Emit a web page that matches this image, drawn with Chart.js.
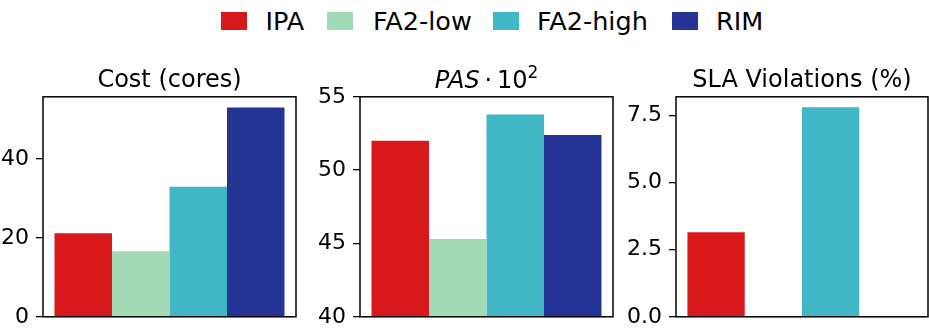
<!DOCTYPE html>
<html><head><meta charset="utf-8">
<script src="https://cdn.jsdelivr.net/npm/chart.js@4.4.0/dist/chart.umd.min.js"></script>
<style>
html,body{margin:0;padding:0;background:#fff;width:929px;height:331px;overflow:hidden;position:relative;font-family:"DejaVu Sans";}
.panel{position:absolute;top:50px;height:287px;}
.sw{position:absolute;top:12px;width:26px;height:18px}
.lt{position:absolute;top:9px;font-size:25.5px;line-height:25.5px;color:#000;white-space:nowrap}
</style></head><body>
<div id="legend"></div>
<div class="panel" id="p1" style="left:-6.7px;width:307px"><canvas id="c1"></canvas></div>
<div class="panel" id="p2" style="left:310px;width:307px"><canvas id="c2"></canvas></div>
<div class="panel" id="p3" style="left:626px;width:306px"><canvas id="c3"></canvas></div>
<script>
const methods = ['IPA', 'FA2-low', 'FA2-high', 'RIM'];
const colors = ['#d7191c', '#a1dab4', '#41b6c4', '#253494'];
const costValues = [21.2, 16.6, 33.0, 53.1];
const pasValues = [52.0, 45.3, 53.8, 52.4];
const slaValues = [3.15, 0, 7.81, 0];
const panelTitles = ['Cost (cores)', 'PAS · 10²', 'SLA Violations (%)'];
const pasTitleParts = [
  { text: 'PAS', italic: true },
  { text: '\u2009·\u200910' },
  { text: '2', sup: true }
];
const yMin = [0, 40, 0];
const yMax = [55.8, 55, 8.2];
const yStep = [20, 5, 2.5];

// legend (HTML text)
const legendSwatchX = [221, 327, 493, 672];
const legendTextX = [265.5, 373, 537, 716];
const legend = document.getElementById('legend');
methods.forEach((m, i) => {
  const sw = document.createElement('div'); sw.className = 'sw';
  sw.style.left = legendSwatchX[i] + 'px'; sw.style.background = colors[i];
  const tx = document.createElement('div'); tx.className = 'lt';
  tx.style.left = legendTextX[i] + 'px'; tx.textContent = m;
  legend.appendChild(sw); legend.appendChild(tx);
});

const boxPlugin = {
  id: 'box',
  afterDraw(chart) {
    const a = chart.chartArea, ctx = chart.ctx;
    ctx.save(); ctx.strokeStyle = '#000'; ctx.lineWidth = 1.5;
    ctx.strokeRect(a.left, a.top, a.right - a.left, a.bottom - a.top);
    ctx.restore();
  }
};

const mathTitlePlugin = {
  id: 'mathTitle',
  afterDraw(chart) {
    const ctx = chart.ctx, a = chart.chartArea;
    const size = 24, supSize = 17;
    const fontOf = p => (p.italic ? 'italic ' : '') + (p.sup ? supSize : size) + 'px "DejaVu Sans"';
    ctx.save();
    let total = 0;
    const widths = pasTitleParts.map(p => { ctx.font = fontOf(p); const w = ctx.measureText(p.text).width; total += w; return w; });
    let x = (a.left + a.right) / 2 - total / 2;
    const baseY = 38;
    ctx.fillStyle = '#000'; ctx.textBaseline = 'alphabetic'; ctx.textAlign = 'left';
    pasTitleParts.forEach((p, i) => {
      ctx.font = fontOf(p);
      ctx.fillText(p.text, x, p.sup ? baseY - 10 : baseY);
      x += widths[i];
    });
    ctx.restore();
  }
};

function makeChart(id, values, p, decimals) {
  const useMath = p === 1;
  new Chart(document.getElementById(id), {
    type: 'bar',
    data: {
      labels: [''],
      datasets: methods.map((m, i) => ({
        label: m, data: [values[i]], backgroundColor: colors[i],
        borderWidth: 0, barPercentage: 1, categoryPercentage: 1 / 1.1
      }))
    },
    options: {
      responsive: true, maintainAspectRatio: false, animation: false, devicePixelRatio: 1,
      layout: { padding: { left: 0, right: 4, top: useMath ? 46.8 : 0, bottom: 0 } },
      plugins: {
        legend: { display: false }, tooltip: { enabled: false },
        title: { display: !useMath, text: panelTitles[p], fullSize: false, color: '#000',
          font: { family: 'DejaVu Sans', size: 24, weight: 'normal', lineHeight: 1.2 },
          padding: { top: 16.2, bottom: 1.8 } }
      },
      scales: {
        x: { display: false, offset: true },
        y: {
          min: yMin[p], max: yMax[p],
          afterFit: s => { s.width = 50; },
          border: { display: false },
          grid: { drawOnChartArea: false, drawTicks: true, tickLength: 7, color: '#000', lineWidth: 1.3 },
          ticks: { stepSize: yStep[p], includeBounds: false, color: '#000', padding: 7,
            font: { family: 'DejaVu Sans', size: 22 },
            callback: v => decimals ? Number(v).toFixed(1) : String(v) }
        }
      }
    },
    plugins: useMath ? [boxPlugin, mathTitlePlugin] : [boxPlugin]
  });
}
makeChart('c1', costValues, 0, false);
makeChart('c2', pasValues, 1, false);
makeChart('c3', slaValues, 2, true);
</script>
</body></html>
